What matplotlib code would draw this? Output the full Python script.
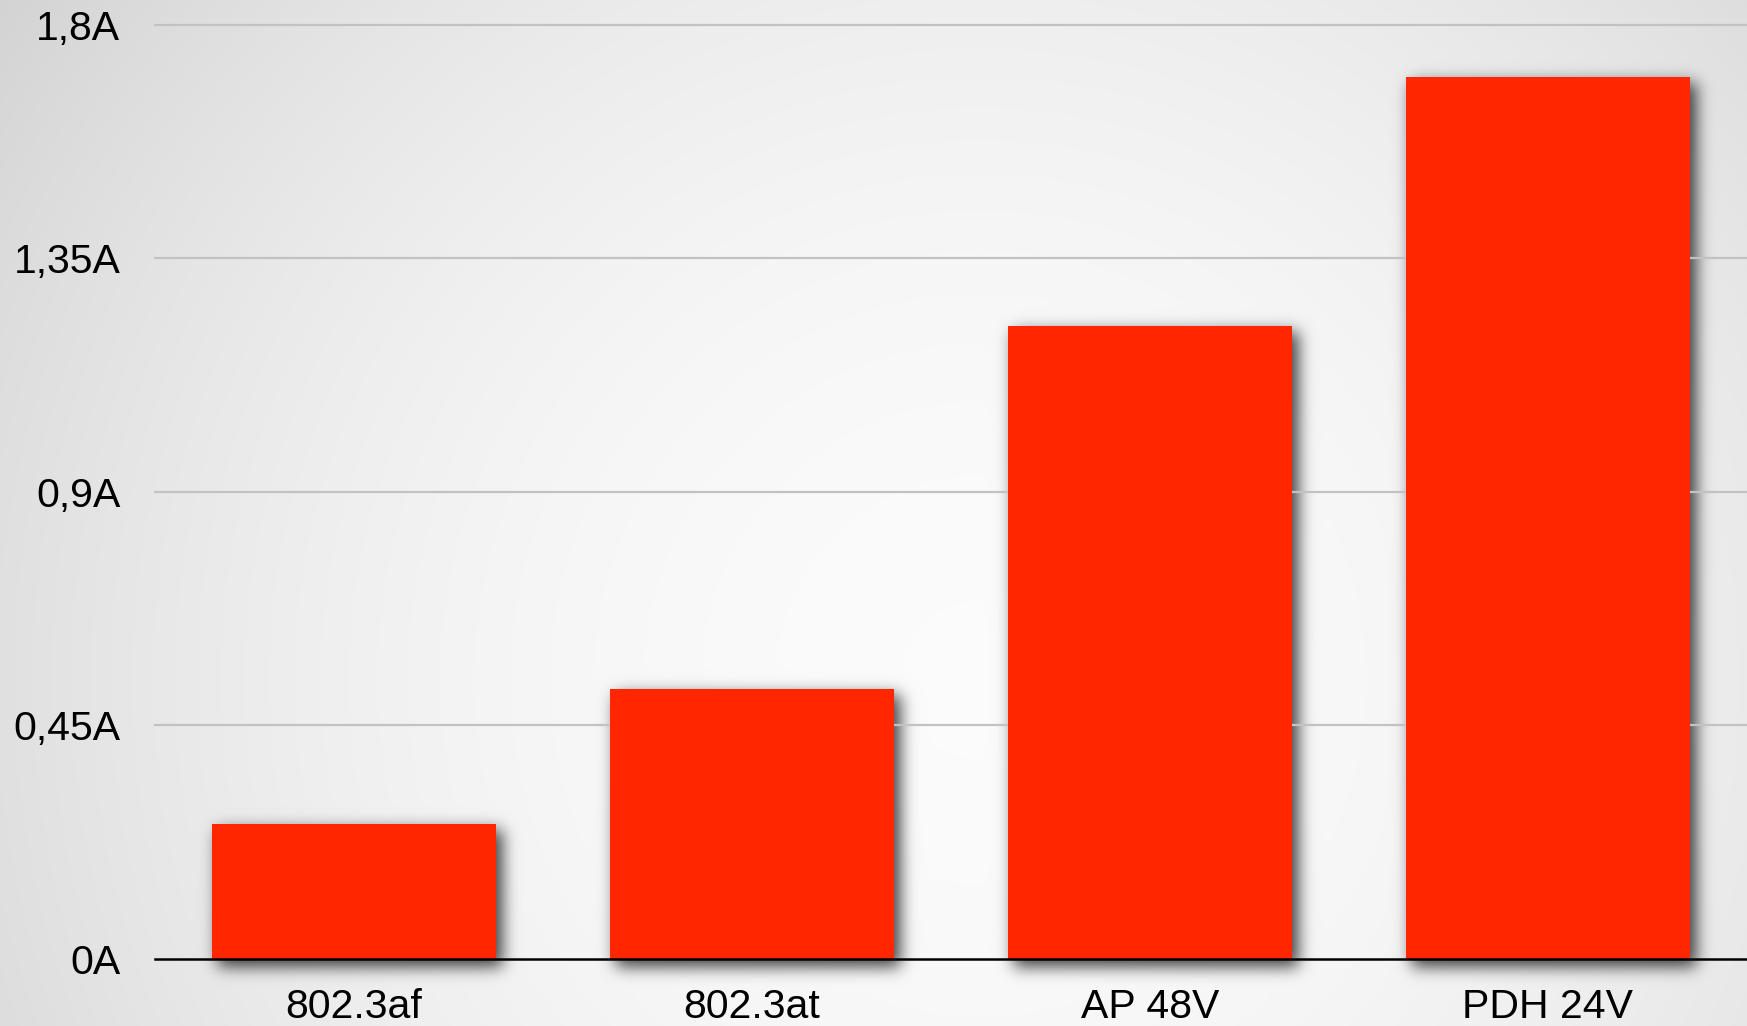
import math
import numpy as np
import matplotlib
matplotlib.use("Agg")
import matplotlib.pyplot as plt

# ---- data ----
categories = ["802.3af", "802.3at", "AP 48V", "PDH 24V"]
values = [0.26, 0.52, 1.22, 1.70]
yticks = [0, 0.45, 0.9, 1.35, 1.8]
ytick_labels = ["0A", "0,45A", "0,9A", "1,35A", "1,8A"]

W, H = 1747, 1026
DPI = 100
plt.rcParams['font.family'] = ['Liberation Sans', 'DejaVu Sans']

fig = plt.figure(figsize=(W / DPI, H / DPI), dpi=DPI)
ax_left, ax_right = 155, 1747
ax_bot_px, ax_top_px = 958.7, 25  # from top
ax = fig.add_axes([ax_left / W, (H - ax_bot_px) / H,
                   (ax_right - ax_left) / W, (ax_bot_px - ax_top_px) / H])
ax.set_facecolor('none')
ax.set_xlim(-0.5, len(categories) - 0.5)
ax.set_ylim(yticks[0], yticks[-1])

x = np.arange(len(categories))
bars = ax.bar(x, values, width=0.715, color='#FF2600', zorder=3)

for t in yticks[1:]:
    ax.axhline(t, color='#c2c2c2', lw=1.6, zorder=1, clip_on=False)
ax.axhline(0, color='black', lw=1.8, zorder=4, clip_on=False)

for s in ax.spines.values():
    s.set_visible(False)
ax.set_yticks(yticks)
ax.set_yticklabels(ytick_labels)
ax.set_xticks(x)
ax.set_xticklabels(categories)
ax.tick_params(axis='y', length=0, labelsize=29.5, pad=25, labelcolor='black')
ax.tick_params(axis='x', length=0, labelsize=29.5, pad=21, labelcolor='black')

# ---- background gradient + blurred drop shadows (display pixel space) ----
xs = np.arange(W) + 0.5
ys = np.arange(H) + 0.5  # display y (origin bottom)
XX, YY = np.meshgrid(xs, ys)
cx, cy = 980, H - 680
d2 = ((XX - cx) ** 2 + (YY - cy) ** 2) / (1000.0 ** 2)
grad = np.clip(0.985 - 0.11 * d2, 0, 1)

verf = np.vectorize(math.erf)
sig = 8.0
dx, dy = 6.0, -6.0
shadow = np.zeros((H, W))
for b in bars:
    (x0, y0), (x1, y1) = ax.transData.transform(
        [[b.get_x(), b.get_y()], [b.get_x() + b.get_width(), b.get_y() + b.get_height()]])
    x0, x1 = x0 + dx, x1 + dx
    y0, y1 = y0 + dy - 2, y1 + dy
    px = 0.5 * (verf((xs - x0) / (sig * math.sqrt(2))) - verf((xs - x1) / (sig * math.sqrt(2))))
    py = 0.5 * (verf((ys - y0) / (sig * math.sqrt(2))) - verf((ys - y1) / (sig * math.sqrt(2))))
    shadow = np.maximum(shadow, np.outer(py, px))

img = grad * (1 - 0.75 * shadow)
rgb = np.dstack([img, img, img])

bg = fig.add_axes([0, 0, 1, 1], zorder=-10)
bg.imshow(rgb, extent=(0, W, 0, H), origin='lower', aspect='auto', interpolation='nearest')
bg.set_xlim(0, W)
bg.set_ylim(0, H)
bg.axis('off')

fig.savefig("out.png", dpi=DPI)
